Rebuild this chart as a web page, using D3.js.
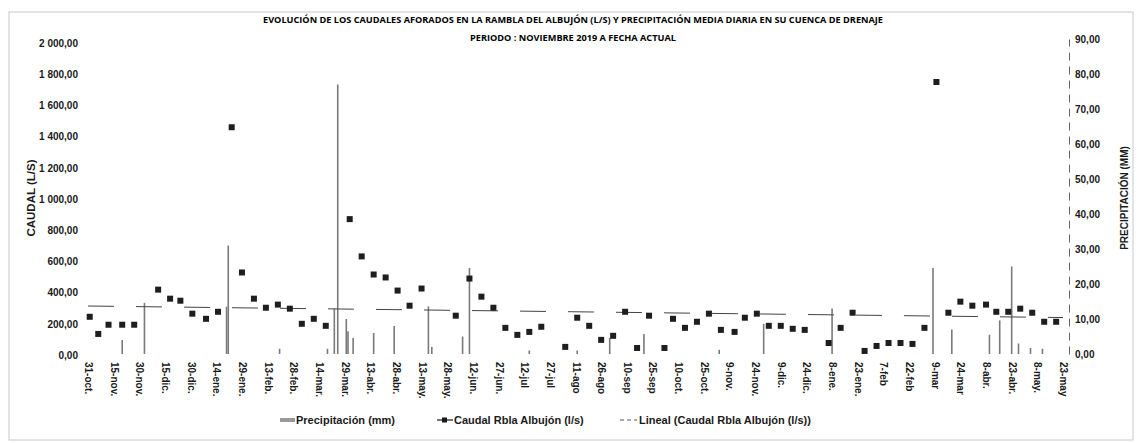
<!DOCTYPE html>
<html>
<head>
<meta charset="utf-8">
<script src="https://cdn.jsdelivr.net/npm/d3@7"></script>
<style>
  body { margin: 0; background: #fff; }
  text { font-family: "Liberation Sans", Arial, sans-serif; }
</style>
</head>
<body>
<svg width="1139" height="443"></svg>
<script>
// caudal aforado (l/s)
const caudalDates = ["2019-11-01","2019-11-06","2019-11-12","2019-11-20","2019-11-27","2019-12-11","2019-12-18","2019-12-24","2019-12-31",
  "2020-01-08","2020-01-15","2020-01-23","2020-01-29","2020-02-05","2020-02-12","2020-02-19","2020-02-26","2020-03-04","2020-03-11","2020-03-18",
  "2020-04-01","2020-04-08","2020-04-15","2020-04-22","2020-04-29","2020-05-06","2020-05-13","2020-06-02","2020-06-10","2020-06-17","2020-06-24",
  "2020-07-01","2020-07-08","2020-07-15","2020-07-22","2020-08-05","2020-08-12","2020-08-19","2020-08-26","2020-09-02","2020-09-09","2020-09-16",
  "2020-09-23","2020-10-02","2020-10-07","2020-10-14","2020-10-21","2020-10-28","2020-11-04","2020-11-12","2020-11-18","2020-11-25","2020-12-02",
  "2020-12-09","2020-12-16","2020-12-23","2021-01-06","2021-01-13","2021-01-20","2021-01-27","2021-02-03","2021-02-10","2021-02-17","2021-02-24",
  "2021-03-03","2021-03-10","2021-03-17","2021-03-24","2021-03-31","2021-04-08","2021-04-14","2021-04-21","2021-04-28","2021-05-05","2021-05-12","2021-05-19"];
const caudalValues = [245,135,194,194,194,419,361,348,265,
  232,277,1460,529,361,303,323,297,200,232,187,
  871,632,516,497,413,316,426,252,490,374,303,
  174,129,148,181,52,239,187,97,123,277,45,
  252,45,232,174,213,265,161,148,239,265,187,
  187,168,161,77,174,271,26,58,77,77,71,
  174,1750,271,342,316,323,277,277,297,271,213,213];

// precipitacion media diaria (mm)
const precipDates = ["2019-11-20","2019-12-03","2020-01-20","2020-01-21","2020-02-20","2020-03-19","2020-03-23","2020-03-25","2020-03-30",
  "2020-03-31","2020-04-03","2020-04-15","2020-04-27","2020-05-17","2020-05-19","2020-06-06","2020-06-10","2020-07-15","2020-08-12",
  "2020-08-31","2020-09-20","2020-11-03","2020-11-29","2021-01-08","2021-03-08","2021-03-19","2021-04-10","2021-04-16","2021-04-23",
  "2021-04-27","2021-05-04","2021-05-11"];
const precipValues = [4,14.6,13.5,31,1.5,1.5,13,77,10,
  6.5,4.6,6,8,13.6,2,5,24.6,1,1,
  4.6,5.7,1.2,8.6,13,24.6,7,5.5,9.6,25,
  3,1.7,1.5];

// tendencia lineal (Caudal), extremos
const trendDates = ["2019-10-31","2021-05-23"];
const trendValues = [314, 240];

const tickLabels = ["31-oct.","15-nov.","30-nov.","15-dic.","30-dic.","14-ene.","29-ene.","13-feb.","28-feb.","14-mar.",
  "29-mar.","13-abr.","28-abr.","13-may.","28-may.","12-jun.","27-jun.","12-jul","27-jul","11-ago",
  "26-ago","10-sep","25-sep","10-oct.","25-oct.","9-nov.","24-nov.","9-dic.","24-dic.","8-ene.",
  "23-ene.","7-feb","22-feb","9-mar","24-mar","8-abr.","23-abr.","8-may.","23-may"];
const leftTicks = [0,200,400,600,800,1000,1200,1400,1600,1800,2000];
const rightTicks = [0,10,20,30,40,50,60,70,80,90];

const svg = d3.select("svg");
const parse = d3.utcParse("%Y-%m-%d");
const fmt = v => d3.format(",.2f")(v).replace(/,/g, " ").replace(".", ",");

const start = parse("2019-10-31");
const x = d3.scaleUtc().domain([start, parse("2021-05-23")]).range([88, 1063]);
const yL = d3.scaleLinear().domain([0, 2000]).range([355, 43]);
const yR = d3.scaleLinear().domain([0, 90]).range([354, 39]);

// marco
svg.append("rect").attr("x", 9).attr("y", 12).attr("width", 1124).attr("height", 428)
  .attr("fill", "none").attr("stroke", "#c8c8c8").attr("stroke-width", 1);

// titulo
svg.append("text").attr("x", 573).attr("y", 23).attr("text-anchor", "middle")
  .style("font-family", "'Open Sans', sans-serif").style("font-weight", "bold").style("font-size", "8px")
  .attr("textLength", 620).attr("lengthAdjust", "spacingAndGlyphs")
  .text("EVOLUCIÓN DE LOS CAUDALES AFORADOS EN LA RAMBLA DEL ALBUJÓN (L/S)  Y PRECIPITACIÓN MEDIA DIARIA EN SU CUENCA DE DRENAJE");
svg.append("text").attr("x", 573).attr("y", 41).attr("text-anchor", "middle")
  .style("font-family", "'Open Sans', sans-serif").style("font-weight", "bold").style("font-size", "8px")
  .attr("textLength", 206).attr("lengthAdjust", "spacingAndGlyphs")
  .text("PERIODO : NOVIEMBRE 2019 A FECHA ACTUAL");

// ejes
const gL = svg.append("g").attr("transform", "translate(84,0)")
  .call(d3.axisLeft(yL).tickValues(leftTicks).tickFormat(fmt).tickSize(0).tickPadding(6));
gL.select(".domain").remove();

const gR = svg.append("g").attr("transform", "translate(1069,0)")
  .call(d3.axisRight(yR).tickValues(rightTicks).tickFormat(fmt).tickSize(0).tickPadding(6));
gR.select(".domain").attr("stroke", "#666").attr("stroke-dasharray", "8,6");

const tickDates = tickLabels.map((d, i) => d3.utcDay.offset(start, 15 * i));
const gX = svg.append("g").attr("transform", "translate(0,355)")
  .call(d3.axisBottom(x).tickValues(tickDates).tickFormat((d, i) => tickLabels[i]).tickSize(0));
gX.select(".domain").remove();
gX.selectAll("text").attr("transform", "rotate(90)").attr("text-anchor", "start")
  .attr("x", 7).attr("y", 0).attr("dy", "0.35em");

svg.selectAll(".tick text").style("font-size", "10px").style("font-weight", "bold").attr("fill", "#1a1a1a");

// titulos de ejes
svg.append("text").attr("transform", "translate(35,198) rotate(-90)").attr("text-anchor", "middle")
  .style("font-size", "11.5px").style("font-weight", "bold").attr("fill", "#1a1a1a").text("CAUDAL (L/S)");
svg.append("text").attr("transform", "translate(1128,198) rotate(-90)").attr("text-anchor", "middle")
  .style("font-size", "10px").style("font-weight", "bold").attr("fill", "#1a1a1a").text("PRECIPITACIÓN (MM)");

// barras de precipitacion
const precip = precipDates.map((d, i) => ({ date: parse(d), value: precipValues[i] }));
svg.append("g").selectAll("rect").data(precip).join("rect")
  .attr("x", d => x(d.date) - 0.8).attr("width", 1.6)
  .attr("y", d => yR(d.value)).attr("height", d => yR(0) - yR(d.value))
  .attr("fill", "#7a7a7a");

// tendencia lineal
const trend = trendDates.map((d, i) => ({ date: parse(d), value: trendValues[i] }));
svg.append("path").datum(trend)
  .attr("d", d3.line().x(d => x(d.date)).y(d => yL(d.value)))
  .attr("fill", "none").attr("stroke", "#444").attr("stroke-width", 1).attr("stroke-dasharray", "26,22");

// caudal
const caudal = caudalDates.map((d, i) => ({ date: parse(d), value: caudalValues[i] }));
svg.append("g").selectAll("rect").data(caudal).join("rect")
  .attr("x", d => x(d.date) - 3).attr("y", d => yL(d.value) - 3)
  .attr("width", 6).attr("height", 6).attr("fill", "#1e1e1e");

// leyenda
const leg = svg.append("g").attr("transform", "translate(0,420)").style("font-size", "11px").style("font-weight", "bold");
leg.append("rect").attr("x", 280).attr("y", -2).attr("width", 15).attr("height", 4).attr("fill", "#999");
leg.append("text").attr("x", 296).attr("dy", "0.35em").attr("fill", "#1a1a1a").text("Precipitación  (mm)");
leg.append("line").attr("x1", 437).attr("x2", 453).attr("stroke", "#1a1a1a").attr("stroke-width", 1.2);
leg.append("rect").attr("x", 442).attr("y", -2.5).attr("width", 5).attr("height", 5).attr("fill", "#1a1a1a");
leg.append("text").attr("x", 454).attr("dy", "0.35em").attr("fill", "#1a1a1a").text("Caudal Rbla Albujón (l/s)");
leg.append("line").attr("x1", 620).attr("x2", 637).attr("stroke", "#555").attr("stroke-dasharray", "4,3");
leg.append("text").attr("x", 639).attr("dy", "0.35em").attr("fill", "#1a1a1a").text("Lineal (Caudal Rbla Albujón (l/s))");
</script>
</body>
</html>
